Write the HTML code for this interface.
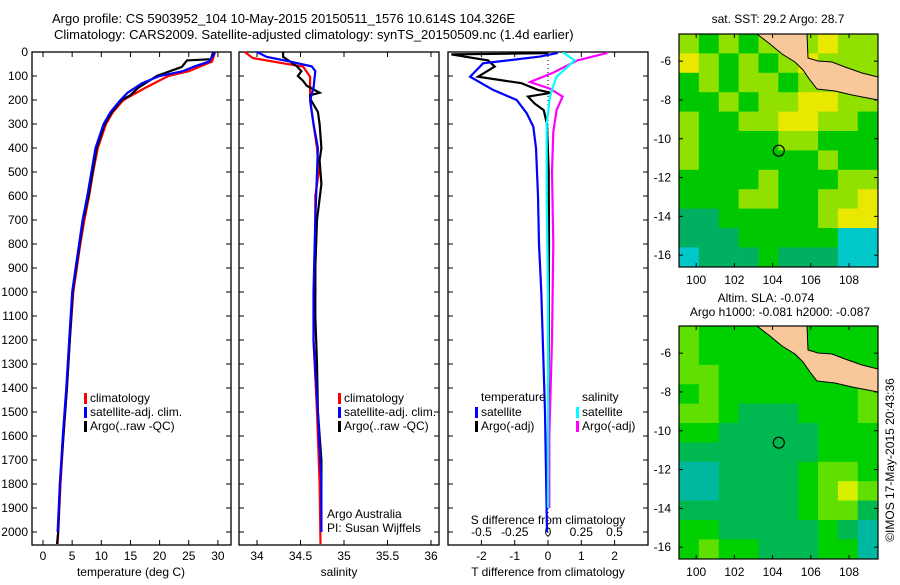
<!DOCTYPE html>
<html><head><meta charset="utf-8"><style>
body{margin:0;background:#fff}
svg text{font-family:"Liberation Sans",sans-serif;font-size:12px;fill:#000}
</style></head><body>
<svg id="fig" width="900" height="580" viewBox="0 0 900 580" xmlns="http://www.w3.org/2000/svg">
<rect width="900" height="580" fill="#fff"/>
<text x="52" y="23" style="font-size:13px">Argo profile: CS 5903952_104 10-May-2015 20150511_1576 10.614S 104.326E</text>
<text x="54" y="39" style="font-size:13px">Climatology: CARS2009. Satellite-adjusted climatology: synTS_20150509.nc (1.4d earlier)</text>
<g id="g"></g>
<text transform="translate(894,460) rotate(-90)" text-anchor="middle">©IMOS 17-May-2015 20:43:36</text>
</svg>
<script>
// ---- data ----
const depthTicks=[0,100,200,300,400,500,600,700,800,900,1000,1100,1200,1300,1400,1500,1600,1700,1800,1900,2000];
const tempTicks=[0,5,10,15,20,25,30];
const salTicks=[34,34.5,35,35.5,36];
const tdiffTicks=[-2,-1,0,1,2];
const sdiffTicks=[-0.5,-0.25,0,0.25,0.5];
const sdiffTickLabels=["-0.5","-0.25","0","0.25","0.5"];
const tClimDepth=[0,40,60,80,100,150,200,250,300,400,500,600,700,800,900,1000,1200,1400,1600,1800,2000,2050];
const tClim=[29.5,29.0,27.0,25.0,21.5,17.5,13.8,12.0,10.8,9.4,8.6,7.9,7.1,6.4,5.8,5.2,4.6,4.1,3.5,3.0,2.6,2.5];
const tSatDepth=[0,40,60,80,100,130,170,200,250,300,400,500,600,700,800,900,1000,1200,1400,1600,1800,2000];
const tSat=[29.5,28.5,26.0,24.0,20.0,17.0,14.5,13.3,11.6,10.4,9.0,8.3,7.6,6.8,6.2,5.6,5.0,4.5,4.0,3.4,2.9,2.5];
const tArgoDepth=[0,30,35,62,100,150,180,200,250,300,400,500,600,700,800,900,1000,1200,1400,1600,1800,2000,2050];
const tArgo=[29.2,28.8,24.7,23.8,19.5,16.3,15.0,13.5,11.8,10.6,9.2,8.5,7.8,6.9,6.3,5.7,5.1,4.6,4.1,3.5,2.9,2.6,2.4];
const sClimDepth=[0,25,47,61,103,200,300,400,500,600,1000,1200,1500,1800,2050];
const sClim=[33.86,33.95,34.3,34.53,34.61,34.61,34.65,34.69,34.71,34.67,34.67,34.65,34.69,34.72,34.73];
const sSatDepth=[0,20,40,60,80,150,200,300,400,500,700,1000,1200,1500,1800,2000];
const sSat=[34.0,34.11,34.38,34.63,34.67,34.65,34.61,34.65,34.7,34.69,34.67,34.65,34.65,34.7,34.74,34.74];
const sArgoDepth=[0,20,40,60,80,100,120,140,170,180,200,250,300,400,450,550,700,900,1100,1300,1500,1700,1900];
const sArgo=[34.3,34.3,34.38,34.46,34.51,34.47,34.53,34.57,34.72,34.61,34.62,34.7,34.72,34.74,34.72,34.74,34.69,34.67,34.67,34.69,34.7,34.74,34.74];
const dTSatDepth=[0,5,19,47,103,158,200,255,311,400,600,800,1000,1500,2000];
const dTSat=[0.25,0.26,-0.24,-1.95,-2.34,-1.65,-0.94,-0.64,-0.44,-0.36,-0.3,-0.27,-0.2,-0.09,-0.03];
const dTArgoDepth=[0,5,10,35,61,103,130,158,170,186,215,242,300,500,800,1200,1600,1900];
const dTArgo=[-0.05,-0.05,-2.9,-1.8,-1.6,-2.1,-0.8,-0.3,0.1,-0.6,-0.4,-0.13,-0.03,0.02,0.03,0.02,0.0,0.0];
const dSSatDepth=[0,5,35,103,125,186,300,600,1000,1500,1900];
const dSSat=[0.12,0.12,0.2,0.065,0.05,0.015,-0.01,-0.01,0.0,0.0,0.0];
const dSArgoDepth=[0,5,35,86,125,153,186,242,333,500,800,1200,1600,1900];
const dSArgo=[0.44,0.44,0.22,0.04,-0.135,0.015,0.11,0.065,0.04,0.03,0.04,0.03,0.01,0.01];
const lonTicks=[100,102,104,106,108];
const latTicks=[-6,-8,-10,-12,-14,-16];
const sstGrid=["3232333433","4323234333","2323323333","2232334433","3223344332","3222233222","3222222322","2222322233","2223322334","1122222344","1112222200","0111211100"];
const slaGrid=["3222222222","3222222222","3322222222","2322222223","3321112223","2211111222","1111111222","0011112332","0011112343","1111112331","2211111210","2322111220"];
const argoLon=104.326, argoLat=-10.614;

// ---- helpers ----
const NS="http://www.w3.org/2000/svg", G=document.getElementById('g');
function mk(t,a,p){const e=document.createElementNS(NS,t);for(const k in a)e.setAttribute(k,a[k]);(p||G).appendChild(e);return e;}
const y0=52,y1=545, yD=d=>y0+d*0.24;
const xT=v=>43+v*5.83, xS=v=>257+(v-34)*87, xDT=v=>548+v*33.3, xDS=v=>548+v*133;
function line(xs,ds,fx,col,nm){const p=xs.map((v,i)=>fx(v).toFixed(1)+','+yD(ds[i]).toFixed(1)).join(' ');
 const e=mk('polyline',{points:p,fill:'none',stroke:col,'stroke-width':2.2});
 
 }
function panel(x0,x1,nm){const r=mk('rect',{x:x0,y:y0,width:x1-x0,height:y1-y0,fill:'none',stroke:'#000','stroke-width':1.3});
 
 
 depthTicks.forEach(d=>{mk('line',{x1:x0,x2:x0+5,y1:yD(d),y2:yD(d),stroke:'#000'});mk('line',{x1:x1,x2:x1-5,y1:yD(d),y2:yD(d),stroke:'#000'});});}
function xticks(ticks,fx,labels){ticks.forEach((v,i)=>{const x=fx(v);mk('line',{x1:x,x2:x,y1:y0,y2:y0+5,stroke:'#000'});mk('line',{x1:x,x2:x,y1:y1,y2:y1-5,stroke:'#000'});
 const t=mk('text',{x:x,y:560,'text-anchor':'middle'});t.textContent=labels?labels[i]:String(v);
 
 });}
function txt(x,y,s,nm,anchor){const t=mk('text',{x:x,y:y,'text-anchor':anchor||'start'});t.textContent=s;
 
 return t;}
function legend(x,y,col,s){mk('rect',{x:x-6,y:y-9,width:3,height:11,fill:col});txt(x,y,s,'legend-entry');}

depthTicks.forEach(d=>{txt(28,yD(d)+4,String(d),'y-tick-label','end');});
panel(32,231,'temperature-panel');xticks(tempTicks,xT);
line(tClim,tClimDepth,xT,'#f00','temp-climatology');
line(tArgo,tArgoDepth,xT,'#000','temp-argo');
line(tSat,tSatDepth,xT,'#00f','temp-satellite');
txt(131,576,'temperature (deg C)','x-axis-title','middle');
legend(90,402,'#f00','climatology');legend(90,416,'#00f','satellite-adj. clim.');legend(90,430,'#000','Argo(..raw -QC)');
panel(239,439,'salinity-panel');xticks(salTicks,xS);
line(sClim,sClimDepth,xS,'#f00','sal-climatology');
line(sArgo,sArgoDepth,xS,'#000','sal-argo');
line(sSat,sSatDepth,xS,'#00f','sal-satellite');
txt(339,576,'salinity','x-axis-title','middle');
legend(344,402,'#f00','climatology');legend(344,416,'#00f','satellite-adj. clim.');legend(344,430,'#000','Argo(..raw -QC)');
txt(327,518,'Argo Australia','credit-line');txt(327,532,'PI: Susan Wijffels','credit-line');
panel(448,648,'difference-panel');
mk('line',{x1:xDT(0),x2:xDT(0),y1:y0,y2:y1,stroke:'#000','stroke-dasharray':'1,3'});
xticks(tdiffTicks,xDT);
sdiffTicks.forEach((v,i)=>txt(xDS(v),536,sdiffTickLabels[i],'s-diff-tick-label','middle'));
txt(548,524,'S difference from climatology','s-diff-axis-title','middle');
line(dTArgo,dTArgoDepth,xDT,'#000','tdiff-argo');
line(dTSat,dTSatDepth,xDT,'#00f','tdiff-satellite');
line(dSArgo,dSArgoDepth,xDS,'#f0f','sdiff-argo');
line(dSSat,dSSatDepth,xDS,'#0ff','sdiff-satellite');
txt(548,576,'T difference from climatology','x-axis-title','middle');
txt(481,401,'temperature','legend-title');txt(582,401,'salinity','legend-title');
legend(481,416,'#00f','satellite');legend(481,430,'#000','Argo(-adj)');
legend(582,416,'#0ff','satellite');legend(582,430,'#f0f','Argo(-adj)');

function map(top,grid,pal,nm){const L=679,R=878,B=top+233;
 const lx=v=>L+(v-99.1)*19.1, ly=v=>top+(-4.6-v)*19.4;
 const grp=mk('g',{});
 grid.forEach((row,r)=>{for(let c=0;c<row.length;c++){const x=lx(99.1+c*1.04),y=ly(-4.6-r);
   mk('rect',{x:x,y:y,width:20.2,height:19.8,fill:pal[+row[c]]},grp);}});
 const o=top-34;
 mk('path',{d:`M757,${34+o} L770,${44+o} L782,${54+o} L795,${62+o} L803,${70+o} L810,${80+o} L817,${89+o} L835,${91+o} L852,${95+o} L878,${100+o} L878,${77+o} L862,${73+o} L845,${67+o} L832,${62+o} L818,${61+o} L808,${58+o} L807,${34+o} Z`,fill:'#f9c89a',stroke:'#000','stroke-width':1},grp);
 mk('circle',{cx:lx(argoLon),cy:ly(argoLat),r:5.5,fill:'none',stroke:'#000','stroke-width':1.2},grp);
 mk('rect',{x:L,y:top,width:R-L,height:B-top,fill:'none',stroke:'#000','stroke-width':1.2});
 lonTicks.forEach(v=>{const x=lx(v);mk('line',{x1:x,x2:x,y1:top,y2:top+4,stroke:'#000'});mk('line',{x1:x,x2:x,y1:B,y2:B-4,stroke:'#000'});txt(x,B+17,String(v),'lon-tick-label','middle');});
 latTicks.forEach(v=>{const y=ly(v);mk('line',{x1:L,x2:L+4,y1:y,y2:y,stroke:'#000'});mk('line',{x1:R,x2:R-4,y1:y,y2:y,stroke:'#000'});txt(671,y+4,String(v),'lat-tick-label','end');});}
map(34,sstGrid,['#00c8c8','#00b060','#00c800','#90e000','#e8e800'],'sst-map');
map(326,slaGrid,['#00b8a0','#00b850','#00d000','#60e000','#d8f000'],'sla-map');
txt(778,23,'sat. SST: 29.2  Argo: 28.7','sst-map-title','middle');
txt(766,302,'Altim. SLA: -0.074','sla-map-title','middle');
txt(780,316,'Argo h1000: -0.081 h2000: -0.087','sla-map-subtitle','middle');
</script>
</body></html>
